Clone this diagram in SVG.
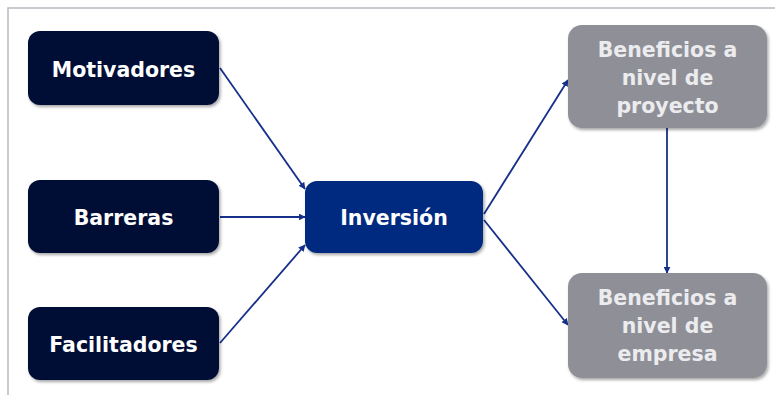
<svg xmlns="http://www.w3.org/2000/svg" width="775" height="395" viewBox="0 0 775 395">
  <style>
    .box { stroke: none; filter: url(#shadow); }
    .dark { fill: #020c36; }
    .main { fill: #022a80; }
    .grey { fill: #8f9097; }
    .lbl { font-family: "DejaVu Sans", "Liberation Sans", sans-serif; font-weight: bold; font-size: 20.5px; fill: #ffffff; text-anchor: middle; }
    .lbl-grey { fill: #ececef; }
    .edge { stroke: #16308a; stroke-width: 1.8; fill: none; marker-end: url(#arrow); }
    .frame { stroke: #b8b9c0; stroke-width: 1.5; fill: none; }
  </style>
  <defs>
    <marker id="arrow" viewBox="0 0 10 10" refX="9" refY="5" markerWidth="7" markerHeight="7" orient="auto-start-reverse" markerUnits="userSpaceOnUse">
      <path d="M0,0 L10,5 L0,10 z" fill="#16308a"/>
    </marker>
    <filter id="shadow" x="-10%" y="-10%" width="125%" height="130%">
      <feDropShadow dx="1.5" dy="2" stdDeviation="1.5" flood-color="#000000" flood-opacity="0.35"/>
    </filter>
  </defs>

  <rect width="775" height="395" fill="#ffffff"/>
  <!-- outer frame: top and left edges -->
  <path class="frame" d="M8,395 L8,8 L775,8"/>

  <g id="connectors">
    <line class="edge" x1="220" y1="68" x2="305" y2="189"/>
    <line class="edge" x1="220" y1="217" x2="305" y2="217"/>
    <line class="edge" x1="220" y1="343" x2="305" y2="245"/>
    <line class="edge" x1="484" y1="214" x2="568" y2="80"/>
    <line class="edge" x1="484" y1="220" x2="568" y2="325"/>
    <line class="edge" x1="667" y1="128" x2="667" y2="273"/>
  </g>

  <g id="motivadores">
    <rect class="box dark" x="28" y="31" width="191" height="74" rx="12"/>
    <text class="lbl" x="123.5" y="77">Motivadores</text>
  </g>
  <g id="barreras">
    <rect class="box dark" x="28" y="180" width="191" height="73" rx="12"/>
    <text class="lbl" x="123.5" y="225">Barreras</text>
  </g>
  <g id="facilitadores">
    <rect class="box dark" x="28" y="307" width="191" height="73" rx="12"/>
    <text class="lbl" x="123.5" y="352">Facilitadores</text>
  </g>
  <g id="inversion">
    <rect class="box main" x="305" y="181" width="178" height="72" rx="12"/>
    <text class="lbl" x="394" y="225">Inversión</text>
  </g>
  <g id="beneficios-proyecto">
    <rect class="box grey" x="568" y="25" width="199" height="103" rx="14"/>
    <text class="lbl lbl-grey" x="667.5" y="57">Beneficios a</text>
    <text class="lbl lbl-grey" x="667.5" y="85">nivel de</text>
    <text class="lbl lbl-grey" x="667.5" y="113">proyecto</text>
  </g>
  <g id="beneficios-empresa">
    <rect class="box grey" x="568" y="273" width="199" height="105" rx="14"/>
    <text class="lbl lbl-grey" x="667.5" y="305">Beneficios a</text>
    <text class="lbl lbl-grey" x="667.5" y="333">nivel de</text>
    <text class="lbl lbl-grey" x="667.5" y="361">empresa</text>
  </g>
</svg>
